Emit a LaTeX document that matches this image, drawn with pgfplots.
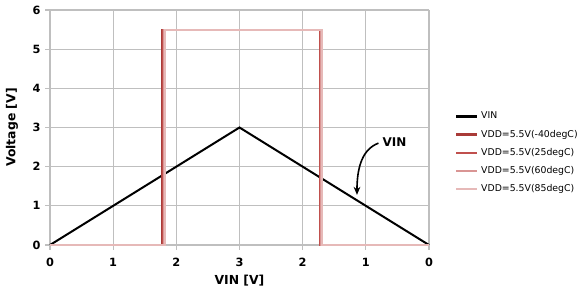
\documentclass[border=0pt]{standalone}
\usepackage{fontspec}
\setmainfont{DejaVu Sans}
\usepackage{pgfplots}
\pgfplotsset{compat=1.18}
\usetikzlibrary{arrows.meta}
\definecolor{gridgray}{HTML}{BFBFBF}
\definecolor{cA}{HTML}{A93B38}
\definecolor{cB}{HTML}{C0504D}
\definecolor{cC}{HTML}{D99594}
\definecolor{cD}{HTML}{E6B9B8}
\begin{document}
\begin{tikzpicture}
\path[use as bounding box] (-37.5pt,-37.5pt) rectangle (402.75pt,183.75pt);
\begin{axis}[
  at={(0,0)}, anchor=south west,
  scale only axis, width=284.25pt, height=176.25pt,
  xmin=0, xmax=6, ymin=0, ymax=6,
  xtick={0,1,2,3,4,5,6},
  xticklabels={\textbf{0},\textbf{1},\textbf{2},\textbf{3},\textbf{2},\textbf{1},\textbf{0}},
  ytick={0,1,2,3,4,5,6},
  yticklabel={\textbf{\pgfmathprintnumber[assume math mode=true]{\tick}}},
  grid=major,
  grid style={gridgray, line width=0.8pt},
  axis line style={gridgray, line width=0.8pt},
  axis x line*=bottom, axis y line*=left,
  tick style={gridgray, line width=0.8pt},
  tick align=outside, major tick length=3.5pt,
  tick label style={font=\fontsize{8.5}{9}\selectfont\bfseries},
  xticklabel style={yshift=-3pt},
  xlabel={VIN [V]}, ylabel={Voltage [V]},
  label style={font=\fontsize{9.3}{10}\selectfont\bfseries},
  xlabel style={at={(axis description cs:0.5,-0.15)}, anchor=center},
  ylabel style={at={(axis description cs:-0.1,0.5)}, anchor=center},
  legend style={draw=none, fill=none, at={(rel axis cs:1.069,0.578)}, anchor=north west,
    font=\fontsize{7}{8}\selectfont, row sep=2.8pt, inner sep=0pt},
  legend cell align=left,
  legend image code/.code={\draw[#1, line width=1.6pt] (0pt,0pt) -- (15.75pt,0pt);},
  clip=false,
]
\addplot[black, line width=1.5pt] coordinates {(0,0) (3,3) (6,0)};
\addlegendentry{VIN}
\addplot[cA, line width=1.4pt] coordinates {(0,0) (1.77,0) (1.77,5.5) (4.27,5.5) (4.27,0) (6,0)};
\addlegendentry{VDD=5.5V(-40degC)}
\addplot[cB, line width=1.4pt] coordinates {(0,0) (1.78,0) (1.78,5.5) (4.28,5.5) (4.28,0) (6,0)};
\addlegendentry{VDD=5.5V(25degC)}
\addplot[cC, line width=1.4pt] coordinates {(0,0) (1.80,0) (1.80,5.5) (4.29,5.5) (4.29,0) (6,0)};
\addlegendentry{VDD=5.5V(60degC)}
\addplot[cD, line width=1.4pt] coordinates {(0,0) (1.82,0) (1.82,5.5) (4.30,5.5) (4.30,0) (6,0)};
\addlegendentry{VDD=5.5V(85degC)}
\node[font=\fontsize{9}{10}\selectfont\bfseries, anchor=west, inner sep=1pt] at (axis cs:5.24,2.62) {VIN};
\draw[-{Stealth[length=6pt,width=5pt]}, line width=1.2pt] (axis cs:5.2,2.6) .. controls (axis cs:4.95,2.45) and (axis cs:4.86,2.0) .. (axis cs:4.86,1.28);
\end{axis}
\end{tikzpicture}
\end{document}
